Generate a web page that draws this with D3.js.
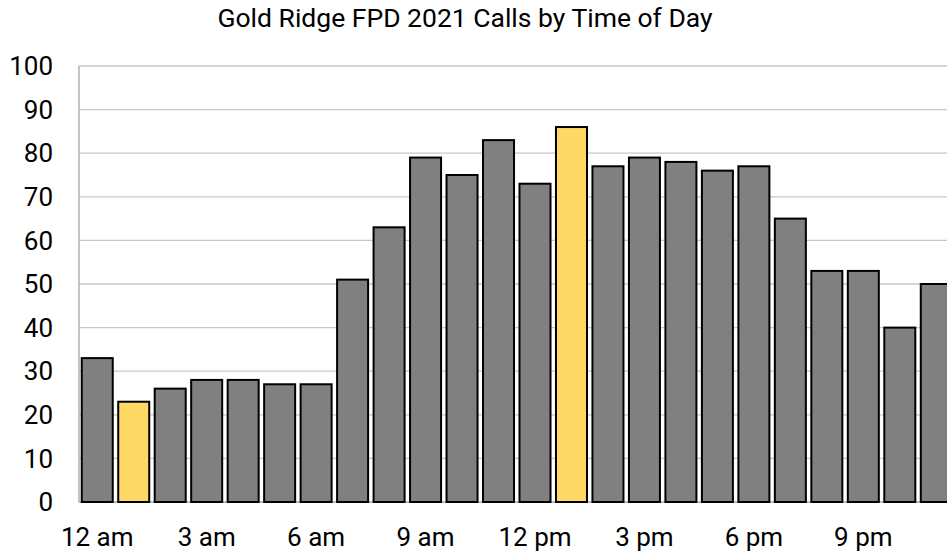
<!DOCTYPE html>
<html><head><meta charset="utf-8">
<script src="https://cdn.jsdelivr.net/npm/d3@7"></script>
<style>body{margin:0;background:#fff;overflow:hidden}text{font-family:Roboto,sans-serif}</style>
</head><body>
<svg id="c" width="947" height="556"></svg>
<script>
const hours = ["12 am","1 am","2 am","3 am","4 am","5 am","6 am","7 am","8 am","9 am","10 am","11 am","12 pm","1 pm","2 pm","3 pm","4 pm","5 pm","6 pm","7 pm","8 pm","9 pm","10 pm","11 pm"];
const calls = [33,23,26,28,28,27,27,51,63,79,75,83,73,86,77,79,78,76,77,65,53,53,40,50];
const highlighted = ["1 am","1 pm"];
const yTicks = [0,10,20,30,40,50,60,70,80,90,100];
const xTickLabels = ["12 am","3 am","6 am","9 am","12 pm","3 pm","6 pm","9 pm"];
const title = "Gold Ridge FPD 2021 Calls by Time of Day";

const svg = d3.select("#c");
const mLeft = 79, mTop = 66, mBottom = 502, step = 36.48;
const x = d3.scaleBand().domain(hours).range([mLeft, mLeft + step*24]).paddingInner(0.15).paddingOuter(0.075);
const y = d3.scaleLinear().domain([0,100]).range([mBottom, mTop]);

svg.append("text").attr("x",465).attr("y",27).attr("text-anchor","middle")
  .attr("font-size",26.5).attr("fill","#000").text(title);

svg.append("g").selectAll("line").data(yTicks.filter(d=>d>0)).join("line")
  .attr("x1",mLeft).attr("x2",mLeft+step*24).attr("y1",d=>y(d)).attr("y2",d=>y(d))
  .attr("stroke","#c8c8c8").attr("stroke-width",1.3);

svg.append("line").attr("x1",mLeft).attr("x2",mLeft).attr("y1",mTop).attr("y2",mBottom)
  .attr("stroke","#a6a6a6").attr("stroke-width",1.3);
svg.append("line").attr("x1",mLeft).attr("x2",mLeft+step*24).attr("y1",mBottom).attr("y2",mBottom)
  .attr("stroke","#a6a6a6").attr("stroke-width",1.3);

svg.append("g").selectAll("rect").data(calls).join("rect")
  .attr("x",(d,i)=>x(hours[i])).attr("width",x.bandwidth())
  .attr("y",d=>y(d)).attr("height",d=>mBottom-y(d))
  .attr("fill",(d,i)=>highlighted.includes(hours[i])?"#ffd966":"#808080")
  .attr("stroke","#000").attr("stroke-width",2);

svg.append("g").selectAll("text").data(yTicks).join("text")
  .attr("x",53).attr("y",d=>y(d)).attr("dy","0.35em").attr("text-anchor","end")
  .attr("font-size",26).attr("fill","#000").text(d=>d);

svg.append("g").selectAll("text").data(xTickLabels).join("text")
  .attr("x",d=>x(d)+x.bandwidth()/2).attr("y",546).attr("text-anchor","middle")
  .attr("font-size",26).attr("fill","#000").text(d=>d);
</script>
</body></html>
